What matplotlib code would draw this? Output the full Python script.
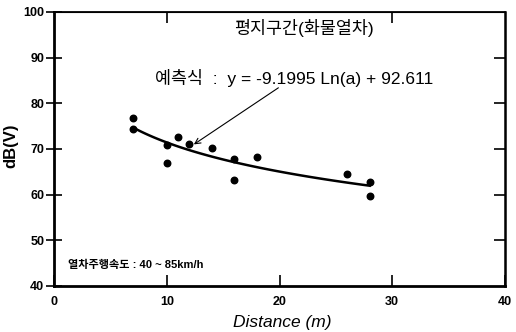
import numpy as np
import matplotlib
matplotlib.use('Agg')
import matplotlib.pyplot as plt

plt.rcParams['font.family'] = ['Liberation Sans', 'Noto Sans CJK KR', 'DejaVu Sans']

# measured points (distance m, dB(V))
dist = [7, 7, 10, 10, 11, 12, 14, 16, 16, 18, 26, 28, 28]
level = [76.7, 74.4, 70.9, 67.0, 72.7, 71.0, 70.2, 67.8, 63.2, 68.2, 64.6, 62.8, 59.7]

# trend line coefficients as printed on the chart
coef_a = -9.1995
coef_b = 92.611

fig = plt.figure(figsize=(5.16, 3.32), dpi=100)
ax = fig.add_axes([0.1047, 0.1386, 0.874, 0.8253])

ax.scatter(dist, level, s=22, color='black', zorder=3)

xfit = np.linspace(min(dist), max(dist), 100)
ax.plot(xfit, coef_a*np.log(xfit) + coef_b, color='black', lw=1.8)

ax.set_xlim(0, 40)
ax.set_ylim(40, 100)
ax.set_xticks([0, 10, 20, 30, 40])
ax.set_yticks([40, 50, 60, 70, 80, 90, 100])
ax.tick_params(axis='x', direction='in', length=8, width=1.2, labelsize=9, pad=7)
ax.tick_params(axis='y', direction='inout', length=12, width=1.2, labelsize=9, pad=1)
for lab in ax.get_xticklabels() + ax.get_yticklabels():
    lab.set_fontweight('bold')

ax.spines['left'].set_linewidth(2)
ax.spines['bottom'].set_linewidth(2)
ax.spines['top'].set_linewidth(1.3)
ax.spines['right'].set_linewidth(1.8)

# right and top ticks
ax2 = ax.secondary_yaxis('right')
ax2.set_yticks([50, 60, 70, 80, 90])
ax2.tick_params(direction='in', length=8, width=1.2, labelright=False)
ax3 = ax.secondary_xaxis('top')
ax3.set_xticks([10, 30])
ax3.tick_params(direction='in', length=8, width=1.2, labeltop=False)

ax.set_xlabel('Distance (m)', fontsize=12.5, style='italic')
ax.xaxis.set_label_coords(0.505, -0.105)
ax.set_ylabel('dB(V)', fontsize=12, fontweight='bold')
ax.yaxis.set_label_coords(-0.08, 0.51)

ax.text(22.2, 96.5, '평지구간(화물열차)', fontsize=12.5, ha='center', va='center')
ax.text(9.0, 85.6, '예측식  :  y = -9.1995 Ln(a) + 92.611', fontsize=12.5,
        ha='left', va='center')
ax.annotate('', xy=(12.4, 71.0), xytext=(19.9, 83.4),
            arrowprops=dict(arrowstyle='->', color='black', lw=0.8,
                            shrinkA=0, shrinkB=0))
ax.text(1.25, 44.6, '열차주행속도 : 40 ~ 85km/h', fontsize=8, fontweight='bold',
        ha='left', va='center')

fig.savefig('out.png', dpi=100)
